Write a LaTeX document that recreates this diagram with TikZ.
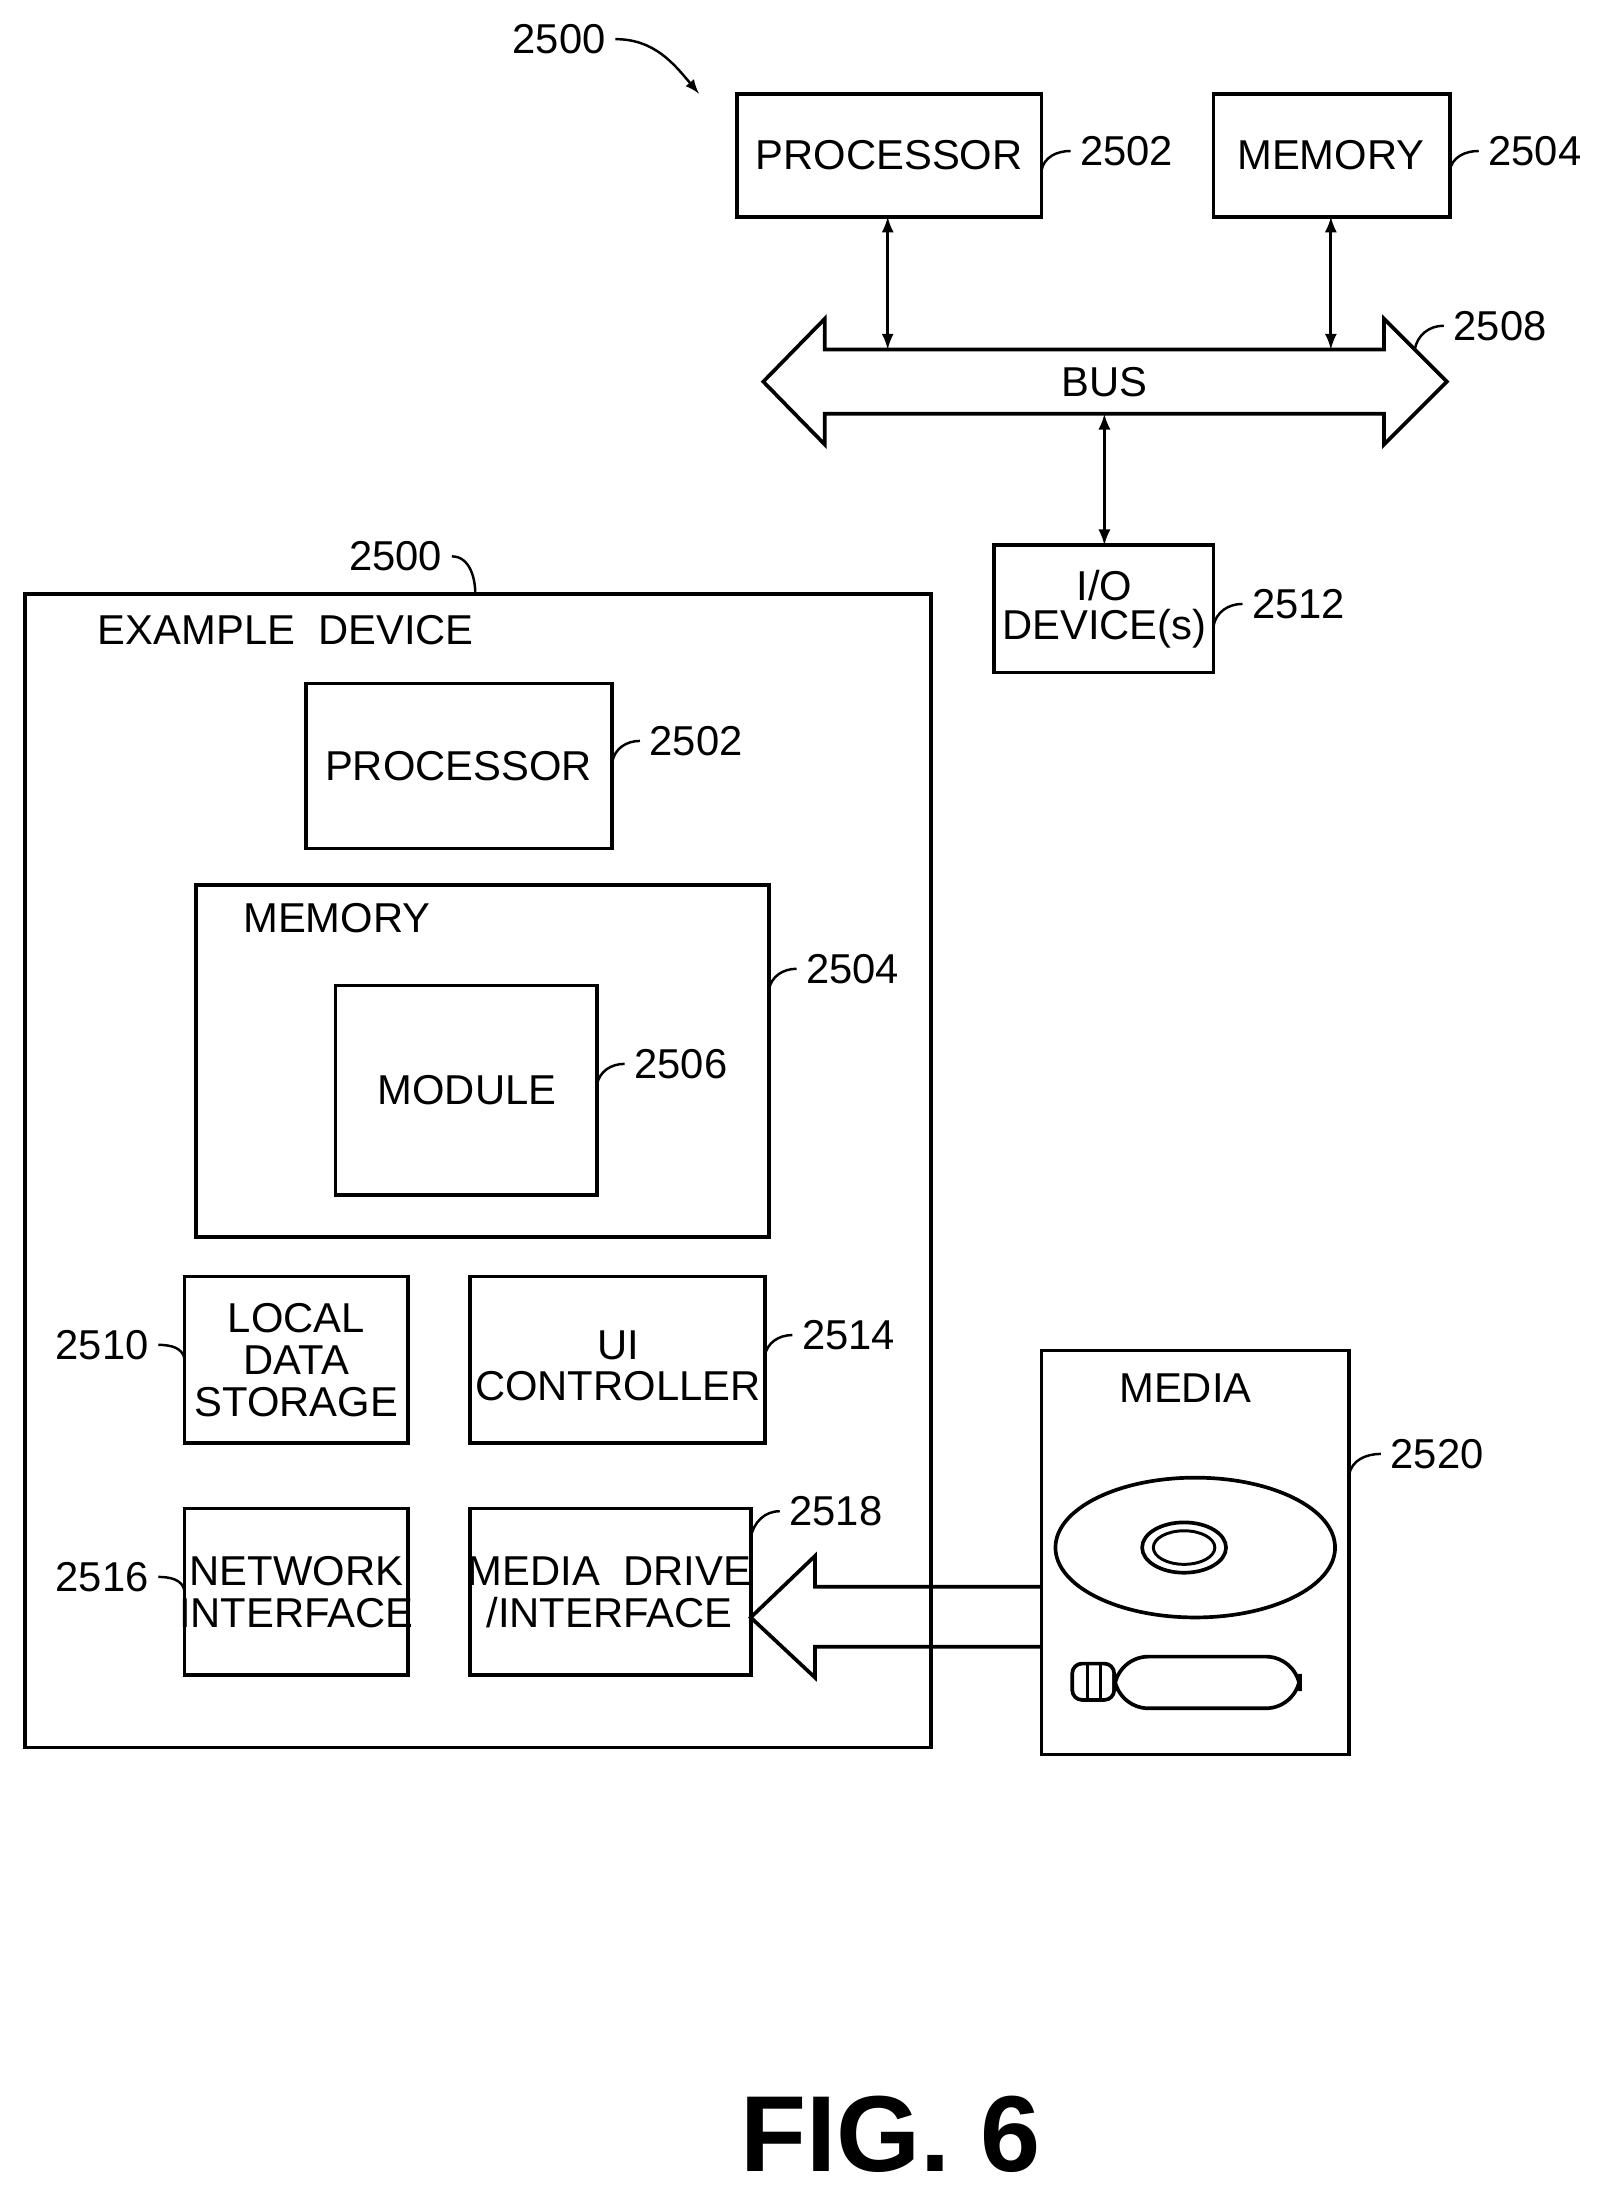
\documentclass[tikz,border=0pt]{standalone}
\usepackage{fontspec}
\setmainfont{Liberation Sans}
\begin{document}
\begin{tikzpicture}[x=0.02cm,y=-0.02cm,line width=1.3pt,
 box/.style={draw,thick,line width=1.5pt,inner sep=0pt},
 txt/.style={font=\fontsize{17}{20}\selectfont,align=center},
 lbl/.style={font=\fontsize{17}{20}\selectfont},
 lead/.style={line width=1pt},
 arr/.style={line width=1.2pt,<->,>=latex}]
\useasboundingbox (0,0) rectangle (1152,1568);
% top system
\draw[box] (527,67) rectangle (745,155); \node[txt] (p1) at (636,111) {PROCESSOR};
\draw[box] (868,67) rectangle (1037,155); \node[txt] (m1) at (952,111) {MEMORY};
\draw[line width=1.5pt] (546,273) -- (590,228) -- (590,250) -- (990,250) -- (990,228) -- (1035,273) -- (990,318) -- (990,296) -- (590,296) -- (590,318) -- cycle;
\node[txt] (bus) at (790,273) {BUS};
\draw[box] (711,390) rectangle (868,481); \node[txt,inner sep=0pt] (io) at (790,436) {I/O\\[-4pt]DEVICE(s)};
\coordinate (pb) at (635,155); \coordinate (pbus) at (635,250);
\coordinate (mb) at (952,155); \coordinate (mbus) at (952,250);
\coordinate (bb) at (790,296); \coordinate (iot) at (790,390);
\draw[arr] (pb) -- (pbus); \draw[arr] (mb) -- (mbus); \draw[arr] (bb) -- (iot);
\node[lbl] (l2502a) at (806,108) {2502};
\node[lbl] (l2504a) at (1098,108) {2504};
\node[lbl] (l2508) at (1073,233) {2508};
\node[lbl] (l2512) at (929,432) {2512};
\node[lbl] (l2500a) at (400,28) {2500};
\coordinate (a1) at (745,122); \coordinate (a2) at (1037,122); \coordinate (a3) at (1012,250); \coordinate (a4) at (868,448);
\draw[lead] (a1) to[out=80,in=180] (l2502a.west);
\draw[lead] (a2) to[out=80,in=180] (l2504a.west);
\draw[lead] (a3) to[out=80,in=180] (l2508.west);
\draw[lead] (a4) to[out=80,in=180] (l2512.west);
\coordinate (a5) at (500,67);
\draw[lead,-latex] (l2500a.east) to[out=0,in=130] (a5);
% example device
\draw[box] (18,425) rectangle (666,1250);
\node[lbl,anchor=west] (ex) at (63,451) {EXAMPLE\ \ DEVICE};
\node[lbl] (l2500b) at (283,398) {2500};
\coordinate (b0) at (340,425);
\draw[lead] (l2500b.east) to[out=0,in=90] (b0);
\draw[box] (219,489) rectangle (438,607); \node[txt] (p2) at (328,548) {PROCESSOR};
\node[lbl] (l2502b) at (498,530) {2502}; \coordinate (b1) at (438,545);
\draw[lead] (b1) to[out=80,in=180] (l2502b.west);
\draw[box] (140,633) rectangle (550,885); \node[txt,anchor=west] (m2) at (167,657) {MEMORY};
\node[lbl] (l2504b) at (610,693) {2504}; \coordinate (b2) at (550,708);
\draw[lead] (b2) to[out=80,in=180] (l2504b.west);
\draw[box] (240,705) rectangle (427,855); \node[txt] (mod) at (334,780) {MODULE};
\node[lbl] (l2506) at (487,761) {2506}; \coordinate (b3) at (427,776);
\draw[lead] (b3) to[out=80,in=180] (l2506.west);
\draw[box] (132,913) rectangle (292,1032); \node[txt,inner sep=0pt] (lds) at (212,973) {LOCAL\\[-3pt]DATA\\[-3pt]STORAGE};
\node[lbl] (l2510) at (73,962) {2510}; \coordinate (b4) at (132,972);
\draw[lead] (l2510.east) to[out=0,in=100] (b4);
\draw[box] (336,913) rectangle (547,1032); \node[txt,inner sep=0pt] (ui) at (442,977) {UI\\[-3pt]CONTROLLER};
\node[lbl] (l2514) at (607,955) {2514}; \coordinate (b5) at (547,970);
\draw[lead] (b5) to[out=80,in=180] (l2514.west);
\draw[box] (132,1079) rectangle (292,1198); \node[txt,inner sep=0pt] (ni) at (212,1139) {NETWORK\\[-3pt]INTERFACE};
\node[lbl] (l2516) at (73,1128) {2516}; \coordinate (b6) at (132,1138);
\draw[lead] (l2516.east) to[out=0,in=100] (b6);
\draw[box] (336,1079) rectangle (537,1198); \node[txt,inner sep=0pt] (md) at (436,1139) {MEDIA\ \ DRIVE\\[-3pt]/INTERFACE};
\node[lbl] (l2518) at (598,1081) {2518}; \coordinate (b7) at (537,1100);
\draw[lead] (b7) to[out=80,in=180] (l2518.west);
% media
\draw[box] (745,966) rectangle (965,1255); \node[txt] (media) at (848,993) {MEDIA};
\node[lbl] (l2520) at (1028,1040) {2520}; \coordinate (b8) at (965,1055);
\draw[lead] (b8) to[out=80,in=180] (l2520.west);
\draw[line width=1.5pt] (745,1135) -- (583,1135) -- (583,1113) -- (537,1157) -- (583,1200) -- (583,1178) -- (745,1178);
\draw[line width=1.5pt] (855,1107) ellipse [x radius=100,y radius=50];
\draw[line width=1.5pt] (847,1107) ellipse [x radius=30,y radius=18];
\draw[line width=1.2pt] (847,1107) ellipse [x radius=22,y radius=12];
\draw[line width=1.5pt,rounded corners=14pt] (797,1185) rectangle (930,1222);
\draw[line width=1.5pt,rounded corners=4pt] (767,1190) rectangle (797,1216);
\draw[line width=1.2pt] (778,1190) -- (778,1216) (787,1190) -- (787,1216);
\node[font=\bfseries\fontsize{44}{50}\selectfont] (fig) at (637,1527) {FIG. 6};
\end{tikzpicture}
\end{document}
